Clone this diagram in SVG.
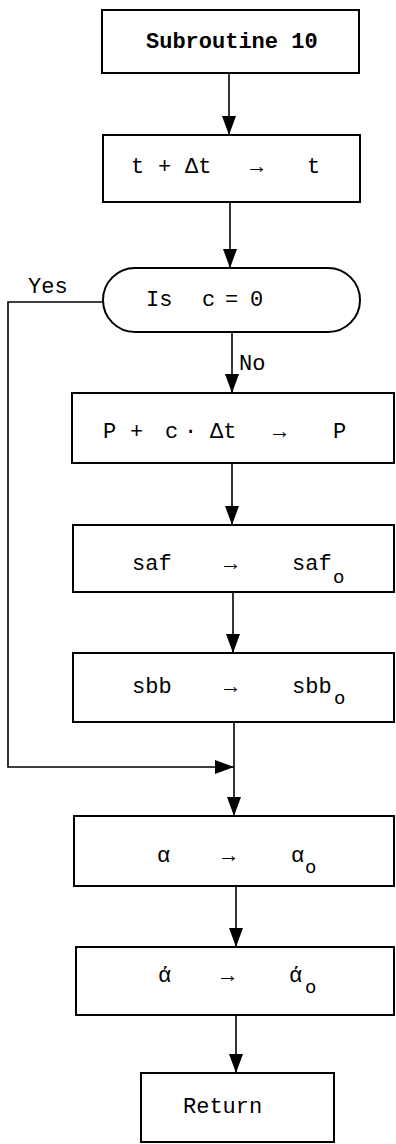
<svg xmlns="http://www.w3.org/2000/svg" width="396" height="1144" viewBox="0 0 396 1144">
<style>
.box{fill:#fff;stroke:#000;stroke-width:2}
.ln{fill:none;stroke:#000;stroke-width:1.6}
.t{font-family:"Liberation Mono","Courier New",monospace;font-size:22px;fill:#000}
.b{font-weight:bold}
.sub{font-family:"Liberation Mono","Courier New",monospace;font-size:19px;fill:#000}
</style>
<defs>
<marker id="ah" markerUnits="userSpaceOnUse" markerWidth="20" markerHeight="14" refX="19" refY="7" orient="auto" viewBox="0 0 20 14">
<path d="M0,0 L19,7 L0,14 Z" fill="#000"/>
</marker>
</defs>
<g id="connectors">
<line class="ln" x1="229" y1="73" x2="229" y2="135" marker-end="url(#ah)"/>
<line class="ln" x1="230" y1="202" x2="230" y2="268" marker-end="url(#ah)"/>
<line class="ln" x1="232" y1="332" x2="232" y2="393" marker-end="url(#ah)"/>
<line class="ln" x1="232" y1="463" x2="232" y2="525" marker-end="url(#ah)"/>
<line class="ln" x1="233" y1="592" x2="233" y2="653" marker-end="url(#ah)"/>
<line class="ln" x1="234" y1="722" x2="234" y2="816" marker-end="url(#ah)"/>
<path class="ln" d="M103,302 H8 V767 H234" marker-end="url(#ah)"/>
<line class="ln" x1="236" y1="886" x2="236" y2="947" marker-end="url(#ah)"/>
<line class="ln" x1="236" y1="1015" x2="236" y2="1073" marker-end="url(#ah)"/>
<text class="t" x="28" y="293">Yes</text>
<text class="t" x="239" y="370">No</text>
</g>
<g id="n1">
<rect class="box" x="102" y="10" width="257" height="63"/>
<text class="t b" x="146" y="48">Subroutine 10</text>
</g>
<g id="n2">
<rect class="box" x="103" y="135" width="257" height="67"/>
<text class="t" y="173"><tspan x="131">t</tspan><tspan x="158">+</tspan><tspan x="185">Δt</tspan><tspan x="250">→</tspan><tspan x="307">t</tspan></text>
</g>
<g id="n3">
<rect class="box" x="103" y="268" width="257" height="64" rx="32" ry="32"/>
<text class="t" y="306"><tspan x="146">Is</tspan><tspan x="202">c</tspan><tspan x="225">=</tspan><tspan x="250">0</tspan></text>
</g>
<g id="n4">
<rect class="box" x="72" y="393" width="322" height="70"/>
<text class="t" y="438"><tspan x="103">P</tspan><tspan x="130">+</tspan><tspan x="165">c</tspan><tspan x="184">·</tspan><tspan x="210">Δt</tspan><tspan x="273">→</tspan><tspan x="333">P</tspan></text>
</g>
<g id="n5">
<rect class="box" x="73" y="525" width="321" height="67"/>
<text class="t" y="570"><tspan x="132">saf</tspan><tspan x="224">→</tspan><tspan x="292">saf</tspan></text>
<text class="sub" x="333" y="583">o</text>
</g>
<g id="n6">
<rect class="box" x="73" y="653" width="321" height="69"/>
<text class="t" y="693"><tspan x="132">sbb</tspan><tspan x="224">→</tspan><tspan x="292">sbb</tspan></text>
<text class="sub" x="334" y="704">o</text>
</g>
<g id="n7">
<rect class="box" x="74" y="816" width="320" height="70"/>
<text class="t" y="862"><tspan x="157">α</tspan><tspan x="222">→</tspan><tspan x="291">α</tspan></text>
<text class="sub" x="305" y="873">o</text>
</g>
<g id="n8">
<rect class="box" x="76" y="947" width="318" height="68"/>
<text class="t" y="982"><tspan x="158">ά</tspan><tspan x="221">→</tspan><tspan x="289">ά</tspan></text>
<text class="sub" x="305" y="993">o</text>
</g>
<g id="n9">
<rect class="box" x="141" y="1073" width="193" height="69"/>
<text class="t" x="183" y="1113">Return</text>
</g>
</svg>
